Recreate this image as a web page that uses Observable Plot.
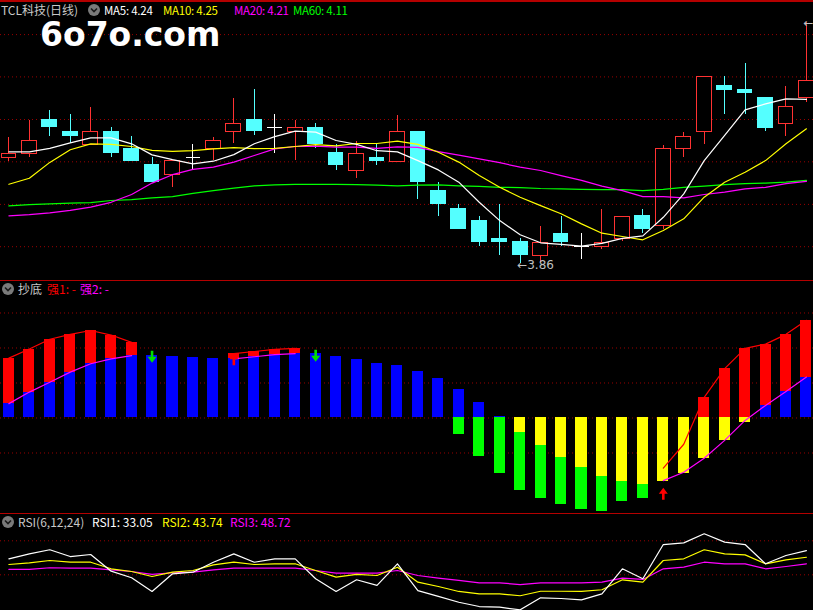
<!DOCTYPE html>
<html><head><meta charset="utf-8">
<script src="https://cdn.jsdelivr.net/npm/d3@7"></script>
<script src="https://cdn.jsdelivr.net/npm/@observablehq/plot@0.6"></script>
<style>
html,body{margin:0;padding:0;background:#000;width:813px;height:610px;overflow:hidden;}
#wrap{position:relative;width:813px;height:610px;background:#000;font-family:"Noto Sans CJK SC","Noto Sans",sans-serif;overflow:hidden;}
.panel{position:absolute;left:0;width:813px;}
.lbl{position:absolute;font-size:12px;white-space:nowrap;line-height:12px;}
.ma{font-size:11.5px;letter-spacing:-0.25px;}
.sep{position:absolute;left:0;width:813px;background:#b40000;}
.wm{position:absolute;left:40px;top:18px;font-family:"DejaVu Sans",sans-serif;font-weight:bold;font-size:33px;line-height:33px;color:#fff;}
</style></head><body><div id="wrap"></div><script>
// ---------- data ----------
const idx = d3.range(40);
const openP  = [4.212,4.226,4.339,4.300,4.256,4.300,4.243,4.187,4.156,4.212, 4.241,4.298,4.339,4.312,4.298,4.313,4.227,4.169,4.212,4.199, 4.300,4.100,4.043,4.000,3.943,3.930,3.885,3.959,3.918,3.916, 3.942,4.017,3.984,4.242,4.298,4.453,4.440,4.413,4.324,4.411];
const highP  = [4.280,4.338,4.369,4.357,4.380,4.313,4.283,4.213,4.200,4.257, 4.280,4.409,4.439,4.356,4.336,4.326,4.256,4.266,4.256,4.353, 4.301,4.130,4.057,4.017,4.057,3.943,3.983,4.017,3.959,4.039, 4.016,4.041,4.253,4.297,4.482,4.483,4.527,4.414,4.449,4.664];
const lowP   = [4.200,4.214,4.284,4.259,4.255,4.214,4.200,4.131,4.114,4.172, 4.203,4.259,4.286,4.228,4.202,4.244,4.171,4.144,4.188,4.198, 4.074,4.018,3.974,3.918,3.888,3.860,3.864,3.918,3.874,3.906, 3.934,3.961,3.973,4.214,4.258,4.358,4.358,4.301,4.284,4.398];
const closeP = [4.226,4.269,4.314,4.284,4.299,4.228,4.201,4.131,4.200,4.212, 4.269,4.326,4.301,4.312,4.312,4.258,4.188,4.226,4.201,4.299, 4.131,4.058,3.974,3.931,3.931,3.888,3.929,3.931,3.918,3.929, 4.016,3.974,4.242,4.282,4.482,4.440,4.427,4.313,4.382,4.469];
const ma5  = [4.232,4.232,4.244,4.262,4.279,4.279,4.259,4.222,4.206,4.192, 4.201,4.223,4.259,4.283,4.301,4.298,4.270,4.257,4.236,4.232, 4.203,4.172,4.131,4.064,4.003,3.956,3.929,3.924,3.918,3.927, 3.944,3.952,4.014,4.092,4.203,4.287,4.372,4.392,4.409,4.407];
const ma10 = [4.124,4.144,4.197,4.239,4.259,4.257,4.250,4.237,4.234,4.236, 4.242,4.246,4.243,4.244,4.250,4.256,4.252,4.260,4.260,4.268, 4.257,4.231,4.198,4.153,4.114,4.081,4.053,4.026,3.992,3.961, 3.950,3.939,3.970,4.009,4.081,4.131,4.164,4.203,4.259,4.309];
const ma20 = [4.019,4.023,4.029,4.037,4.048,4.064,4.090,4.128,4.156,4.174, 4.181,4.198,4.220,4.242,4.250,4.251,4.248,4.248,4.244,4.249, 4.247,4.233,4.221,4.209,4.196,4.181,4.170,4.153,4.137,4.118, 4.103,4.083,4.083,4.079,4.090,4.098,4.109,4.114,4.126,4.134];
const ma60 = [4.052,4.056,4.059,4.061,4.063,4.070,4.073,4.079,4.083,4.094, 4.103,4.111,4.119,4.122,4.124,4.124,4.124,4.123,4.121,4.119, 4.121,4.122,4.119,4.117,4.114,4.113,4.110,4.109,4.107,4.106, 4.106,4.103,4.107,4.114,4.118,4.123,4.126,4.128,4.131,4.137];
const priceGrid = [3.916, 4.057, 4.199, 4.340, 4.482, 4.623];
const lowLabel = "←3.86", lowBar = 25, lowPrice = 3.86;
const highLabel = "←4.66", highBar = 39, highPrice = 4.664;
const maLegend = [["MA5: 4.24","#ffffff",104],["MA10: 4.25","#ffff00",163],["MA20: 4.21","#ff00ff",234],["MA60: 4.11","#00ff00",293]];

// 抄底 indicator
const blueTop   = [0.41,0.74,1.02,1.31,1.55,1.69,1.78,1.78,1.76,1.73, 1.70,1.69,1.75,1.81,1.84,1.84,1.76,1.67,1.56,1.50, 1.33,1.13,0.81,0.44,0.04,0,0,0,0,0, 0,0,0,0,0,0,0,0.36,0.76,1.17];
const redTop    = [1.71,1.97,2.25,2.39,2.50,2.37,2.16,1.78,1.76,1.73, 1.70,1.84,1.90,1.96,1.99,1.84,1.76,1.67,1.56,1.50, 1.33,1.13,0.81,0.44,0.04,0,0,0,0,0, 0,0,0,0,0.59,1.41,1.99,2.11,2.39,2.79];
const yellowBot = [0,0,0,0,0,0,0,0,0,0, 0,0,0,0,0,0,0,0,0,0, 0,0,0,0,0,-0.41,-0.79,-1.13,-1.41,-1.67, -1.81,-1.90,-1.81,-1.58,-1.15,-0.63,-0.12,0,0,0];
const greenBot  = [0,0,0,0,0,0,0,0,0,0, 0,0,0,0,0,0,0,0,0,0, 0,0,-0.47,-1.09,-1.58,-2.07,-2.29,-2.46,-2.61,-2.68, -2.38,-2.29,-1.81,-1.58,-1.15,-0.63,-0.12,0,0,0];
const qiang1 = [1.71,1.97,2.25,2.39,2.50,2.37,2.16,null,null,null, null,1.84,1.90,1.96,1.99,null,null,null,null,null, null,null,null,null,null,null,null,null,null,null, null,null,-1.43,-0.75,0.59,1.41,1.99,2.11,2.39,2.79];
const qiang2 = [0.41,0.74,1.02,1.31,1.55,1.69,1.78,null,null,null, null,1.69,1.75,1.81,1.84,null,null,null,null,null, null,null,null,null,null,null,null,null,null,null, null,null,-1.79,-1.55,-1.15,-0.64,-0.07,0.36,0.76,1.17];
const midGrid = [-1, 0, 1, 2, 3];
const downArrowBar = [7, 15], downArrowTip = [1.58, 1.61];
const upArrowBar = [11, 32], upArrowTip = [1.85, -1.99];

// RSI
const rsi1 = [64.1,68.5,72.1,66.1,67.9,53.2,47.4,35.3,50.9,52.3, 61.1,68.5,61.1,64.1,64.1,46.5,35.3,45.6,40.6,59.7, 36.1,30.9,25.8,22.0,21.4,19.1,29.7,29.1,27.9,33.2, 55.3,46.5,76.7,78.2,86.2,78.8,76.7,59.7,67.0,71.4];
const rsi2 = [59.1,60.6,62.6,61.1,61.1,55.3,52.9,48.5,52.3,53.8, 58.8,61.1,59.1,59.7,59.7,53.8,47.9,50.3,49.4,56.7, 43.5,39.7,35.3,33.2,33.2,31.5,35.5,35.5,35.3,36.8, 45.6,43.5,62.6,64.1,72.1,68.5,67.6,59.7,63.2,65.5];
const rsi3 = [54.7,54.7,56.2,55.9,55.9,54.4,52.9,50.3,51.8,52.3, 54.4,55.9,55.9,55.9,55.9,53.8,51.4,51.4,51.4,53.8, 49.4,47.0,45.0,42.9,42.9,41.4,42.9,42.9,42.9,43.5, 47.0,45.9,55.3,56.7,61.1,59.7,59.7,55.3,57.3,59.7];
const rsiGrid = [50, 80];
const rsiLegend = [["RSI1: 33.05","#ffffff",92],["RSI2: 43.74","#ffff00",162],["RSI3: 48.72","#ff00ff",230]];

// ---------- drawing ----------
const W = 813;
const GRID = "#990000";
const UP = "#ff3232", DOWN = "#54ffff";
const xOpt = () => ({type:"linear", domain:[-0.4108, 39.345], range:[0, W], axis:null});
const wrap = document.getElementById("wrap");
function place(node, top){ node.classList.add("panel"); node.style.top = top+"px"; wrap.appendChild(node); }

// top panel
const candles = idx.map(i => {
  const o=openP[i], c=closeP[i];
  const t = c>o ? "up" : c<o ? "down" : "doji";
  return {i, o, h:highP[i], l:lowP[i], c, t, col: t==="up"?UP : t==="down"?DOWN : "#ffffff"};
});
const hw = 0.36;
const topPlot = Plot.plot({
  width: W, height: 280, margin: 0,
  x: xOpt(), y: {domain:[3.8033, 4.7367], axis:null},
  color: {type:"identity"},
  style: {background:"transparent", overflow:"hidden"},
  marks: [
    Plot.ruleY(priceGrid, {stroke: GRID, strokeDasharray:"1,3"}),
    Plot.ruleX(candles, {x:"i", y1:"l", y2:"h", stroke:"col", shapeRendering:"crispEdges"}),
    Plot.rect(candles.filter(d=>d.t!=="doji"), {x1:d=>d.i-hw, x2:d=>d.i+hw, y1:"o", y2:"c",
      fill:d=>d.t==="up"?"#000000":DOWN, stroke:"col", shapeRendering:"crispEdges"}),
    Plot.link(candles.filter(d=>d.t==="doji"), {x1:d=>d.i-hw, x2:d=>d.i+hw, y1:"o", y2:"o", stroke:"#ffffff", shapeRendering:"crispEdges"}),
    Plot.line(idx, {x:d=>d, y:d=>ma60[d], stroke:"#00ff00", strokeWidth:1.2}),
    Plot.line(idx, {x:d=>d, y:d=>ma20[d], stroke:"#ff00ff", strokeWidth:1.2}),
    Plot.line(idx, {x:d=>d, y:d=>ma10[d], stroke:"#ffff00", strokeWidth:1.2}),
    Plot.line(idx, {x:d=>d, y:d=>ma5[d], stroke:"#ffffff", strokeWidth:1.2}),
    Plot.text([lowLabel], {x:lowBar, y:lowPrice, text:d=>d, textAnchor:"start", dx:-3, dy:2, fill:"#c0c0c0", fontSize:12, fontFamily:"DejaVu Sans"}),
    Plot.text([highLabel], {x:highBar, y:highPrice, text:d=>d, textAnchor:"start", dx:-3, dy:1, fill:"#c0c0c0", fontSize:12, fontFamily:"DejaVu Sans"})
  ]
});
place(topPlot, 0);

// middle panel
const segs = [];
idx.forEach(i => {
  if (blueTop[i] > 0) segs.push({i, y1:0, y2:blueTop[i], c:"#0000ff"});
  if (redTop[i] > blueTop[i]) segs.push({i, y1:blueTop[i], y2:redTop[i], c:"#ff0000"});
  if (yellowBot[i] < 0) segs.push({i, y1:0, y2:yellowBot[i], c:"#ffff00"});
  if (greenBot[i] < yellowBot[i]) segs.push({i, y1:yellowBot[i], y2:greenBot[i], c:"#00ff00"});
});
const downSym = {draw(ctx){ ctx.moveTo(-1.3,-12); ctx.lineTo(1.3,-12); ctx.lineTo(1.3,-6); ctx.lineTo(4.5,-6); ctx.lineTo(0,0); ctx.lineTo(-4.5,-6); ctx.lineTo(-1.3,-6); ctx.closePath(); }};
const upSym = {draw(ctx){ ctx.moveTo(-1.3,12); ctx.lineTo(1.3,12); ctx.lineTo(1.3,6); ctx.lineTo(4.5,6); ctx.lineTo(0,0); ctx.lineTo(-4.5,6); ctx.lineTo(-1.3,6); ctx.closePath(); }};
const bw = 0.27;
const midPlot = Plot.plot({
  width: W, height: 232, margin: 0,
  x: xOpt(), y: {domain:[-2.729, 3.9], axis:null},
  color: {type:"identity"},
  style: {background:"transparent", overflow:"hidden"},
  marks: [
    Plot.ruleY(midGrid, {stroke: GRID, strokeDasharray:"1,3"}),
    Plot.rect(segs, {x1:d=>d.i-bw, x2:d=>d.i+bw, y1:"y1", y2:"y2", fill:"c", shapeRendering:"crispEdges"}),
    Plot.line(idx, {x:d=>d, y:d=>qiang2[d], stroke:"#ff00ff", strokeWidth:1.2}),
    Plot.line(idx, {x:d=>d, y:d=>qiang1[d], stroke:"#ff0000", strokeWidth:1.2}),
    Plot.dot(d3.range(downArrowBar.length), {x:k=>downArrowBar[k], y:k=>downArrowTip[k], symbol:downSym, fill:"#00e000", r:5}),
    Plot.dot(d3.range(upArrowBar.length), {x:k=>upArrowBar[k], y:k=>upArrowTip[k], symbol:upSym, fill:"#ff0000", r:5})
  ]
});
place(midPlot, 281);

// RSI panel
const rsiPlot = Plot.plot({
  width: W, height: 96, margin: 0,
  x: xOpt(), y: {domain:[18.5, 103.2], axis:null},
  style: {background:"transparent", overflow:"hidden"},
  marks: [
    Plot.ruleY(rsiGrid, {stroke: GRID, strokeDasharray:"1,3"}),
    Plot.line(idx, {x:d=>d, y:d=>rsi3[d], stroke:"#ff00ff", strokeWidth:1.2}),
    Plot.line(idx, {x:d=>d, y:d=>rsi2[d], stroke:"#ffff00", strokeWidth:1.2}),
    Plot.line(idx, {x:d=>d, y:d=>rsi1[d], stroke:"#ffffff", strokeWidth:1.2})
  ]
});
place(rsiPlot, 514);

// separators
[[0,2],[280,1],[513,1]].forEach(([t,h]) => { const s=document.createElement("div"); s.className="sep"; s.style.top=t+"px"; s.style.height=h+"px"; wrap.appendChild(s); });

// legends
function label(text, color, left, top, cls){ const s=document.createElement("div"); s.className="lbl" + (cls ? " "+cls : ""); s.textContent=text; s.style.color=color; s.style.left=left+"px"; s.style.top=top+"px"; wrap.appendChild(s); }
function icon(cx, cy){
  const svg = d3.create("svg").attr("width",14).attr("height",14)
    .style("position","absolute").style("left",(cx-7)+"px").style("top",(cy-7)+"px");
  svg.append("circle").attr("cx",7).attr("cy",7).attr("r",6).attr("fill","#7a7a7a");
  svg.append("polyline").attr("points","4,5.5 7,8.5 10,5.5").attr("fill","none").attr("stroke","#1a1a1a").attr("stroke-width",1.6);
  wrap.appendChild(svg.node());
}
label("TCL科技(日线)", "#c8c8c8", 1, 4);
icon(94, 10);
maLegend.forEach(([t,c,l]) => label(t, c, l, 4, "ma"));
const wm = document.createElement("div"); wm.className="wm"; wm.textContent="6o7o.com"; wrap.appendChild(wm);

icon(8, 289);
label("抄底", "#c8c8c8", 18, 283);
label("强1: -", "#ff0000", 47, 283);
label("强2: -", "#ff00ff", 80, 283);

icon(8, 522);
label("RSI(6,12,24)", "#c8c8c8", 18, 516);
rsiLegend.forEach(([t,c,l]) => label(t, c, l, 516));
</script></body></html>
